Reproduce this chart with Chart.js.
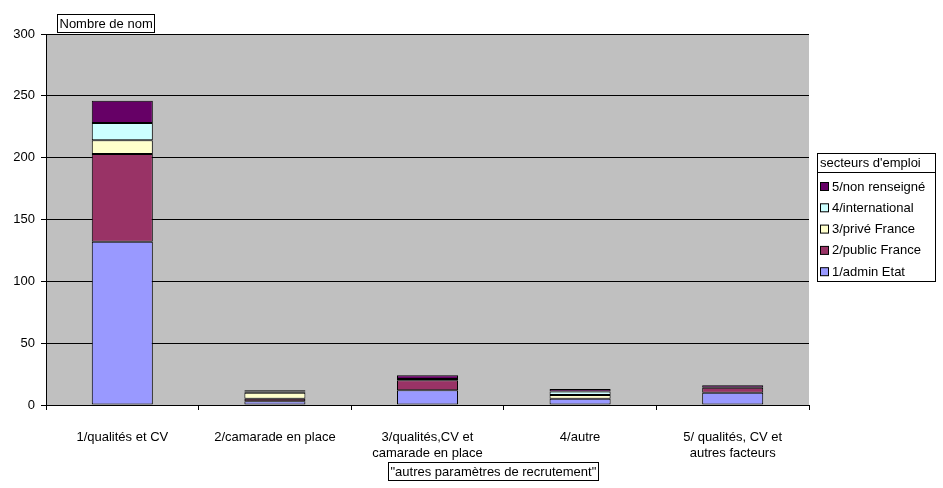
<!DOCTYPE html>
<html>
<head>
<meta charset="utf-8">
<script src="https://cdn.jsdelivr.net/npm/chart.js@4/dist/chart.umd.min.js"></script>
<style>
  body { margin: 0; background: #fff; }
  #wrap { width: 943px; height: 488px; }
</style>
</head>
<body>
<div id="wrap"><canvas id="myChart" width="943" height="488"></canvas></div>
<script>
const categories = [
  "1/qualités et CV",
  "2/camarade en place",
  ["3/qualités,CV et", "camarade en place"],
  "4/autre",
  ["5/ qualités, CV et", "autres facteurs"]
];
const adminEtat = [132, 3, 12, 5, 10];
const publicFrance = [71, 2, 8, 0, 4];
const priveFrance = [11, 5, 1, 3, 0];
const international = [14, 1, 0, 3, 0];
const nonRenseigne = [18, 1, 3, 2, 2];
const yTicks = [0, 50, 100, 150, 200, 250, 300];

const FONT = "'Liberation Sans', Arial, sans-serif";

// gray plot background + boxed titles + legend
const decor = {
  id: "decor",
  beforeDraw(chart) {
    const ctx = chart.ctx;
    const a = chart.chartArea;
    ctx.save();
    ctx.fillStyle = "#c0c0c0";
    ctx.fillRect(a.left, a.top, a.right - a.left, a.bottom - a.top);
    ctx.restore();
  },
  afterDraw(chart) {
    const ctx = chart.ctx;
    const a = chart.chartArea;
    ctx.save();
    ctx.font = "13px " + FONT;
    ctx.textBaseline = "middle";
    ctx.lineWidth = 1;
    ctx.strokeStyle = "#000";

    function boxText(txt, x, y, padX) {
      let w = Math.round(ctx.measureText(txt).width + padX * 2);
      ctx.fillStyle = "#fff";
      ctx.fillRect(x + 0.5, y + 0.5, w, 18);
      ctx.strokeRect(x + 0.5, y + 0.5, w, 18);
      ctx.fillStyle = "#000";
      ctx.fillText(txt, x + padX + 0.5, y + 10);
    }
    boxText("Nombre de nom", 57, a.top - 20, 2);
    boxText("\"autres paramètres de recrutement\"", 388, a.bottom + 57, 2);

    // legend
    let lx = a.right + 8, ly = 153, lw = 118;
    ctx.fillStyle = "#fff";
    ctx.fillRect(lx + 0.5, ly + 0.5, lw, 19);
    ctx.strokeRect(lx + 0.5, ly + 0.5, lw, 19);
    ctx.fillRect(lx + 0.5, ly + 19.5, lw, 109);
    ctx.strokeRect(lx + 0.5, ly + 19.5, lw, 109);
    ctx.fillStyle = "#000";
    ctx.fillText("secteurs d'emploi", lx + 3, ly + 10);
    const ds = chart.data.datasets.slice().reverse();
    ds.forEach((d, i) => {
      let y = ly + 34 + i * 21.3;
      ctx.fillStyle = d.backgroundColor;
      ctx.fillRect(lx + 3.5, y - 4.5, 8, 8);
      ctx.strokeRect(lx + 3.5, y - 4.5, 8, 8);
      ctx.fillStyle = "#000";
      ctx.fillText(d.label, lx + 15, y);
    });
    ctx.restore();
  }
};

function mk(label, data, color) {
  return {
    label: label,
    data: data,
    backgroundColor: color,
    borderColor: "#000",
    borderWidth: 1,
    borderSkipped: false,
    barPercentage: 0.4,
    categoryPercentage: 1
  };
}

window.onload = () => {
  var ctx = document.getElementById("myChart").getContext("2d");
  var myChart = new Chart(ctx, {
    type: "bar",
    data: {
      labels: categories,
      datasets: [
        mk("1/admin Etat", adminEtat, "#9999ff"),
        mk("2/public France", publicFrance, "#993366"),
        mk("3/privé France", priveFrance, "#ffffcc"),
        mk("4/international", international, "#ccffff"),
        mk("5/non renseigné", nonRenseigne, "#660066")
      ]
    },
    options: {
      responsive: false,
      animation: false,
      layout: { padding: { left: 0, right: 134, top: 34, bottom: 0 } },
      plugins: {
        legend: { display: false },
        tooltip: { enabled: false }
      },
      scales: {
        x: {
          stacked: true,
          afterFit: (s) => { s.height = 83; },
          border: { color: "#000", width: 1 },
          grid: { offset: true, drawOnChartArea: false, drawTicks: true, tickLength: 5, color: "#000" },
          ticks: { color: "#000", font: { family: FONT, size: 13 }, padding: 20, maxRotation: 0, autoSkip: false }
        },
        y: {
          stacked: true,
          min: 0,
          max: 300,
          afterFit: (s) => { s.width = 46; },
          afterBuildTicks: (s) => { s.ticks = yTicks.map(v => ({ value: v })); },
          border: { color: "#000", width: 1 },
          grid: { color: "#000", tickLength: 5, drawTicks: true },
          ticks: { color: "#000", font: { family: FONT, size: 13 }, padding: 6 }
        }
      }
    },
    plugins: [decor]
  });
};
</script>
</body>
</html>
